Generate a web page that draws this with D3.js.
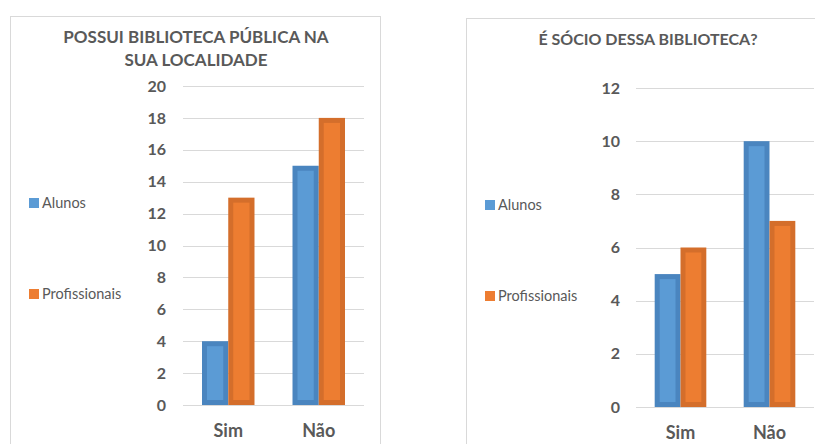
<!DOCTYPE html>
<html>
<head>
<meta charset="utf-8">
<script src="https://cdn.jsdelivr.net/npm/d3@7"></script>
<style>
  body { margin: 0; background: #fff; }
  svg { display: block; font-family: Lato, "Open Sans", sans-serif; }
</style>
</head>
<body>
<svg id="chart" width="815" height="444"></svg>
<script>
var categories = ["Sim", "Não"];
var seriesNames = ["Alunos", "Profissionais"];
var biblioAlunos = [4, 15];
var biblioProfissionais = [13, 18];
var socioAlunos = [5, 10];
var socioProfissionais = [6, 7];
var biblioTicks = [0, 2, 4, 6, 8, 10, 12, 14, 16, 18, 20];
var socioTicks = [0, 2, 4, 6, 8, 10, 12];

var fills = ["#5b9bd5", "#ed7d31"];
var edges = ["#4a85bf", "#d46e2b"];
var textColor = "#595959";

var svg = d3.select("#chart");

function drawPanel(opt) {
  var g = svg.append("g");

  // chart frame
  g.append("rect")
      .attr("x", opt.frame[0] + 0.5)
      .attr("y", opt.frame[1] + 0.5)
      .attr("width", opt.frame[2])
      .attr("height", opt.frame[3])
      .attr("fill", "none")
      .attr("stroke", "#d9d9d9");

  // title
  g.append("text")
      .attr("x", opt.titleX)
      .attr("y", opt.titleY)
      .attr("fill", textColor)
      .attr("font-size", opt.titleSize)
      .attr("font-weight", "bold")
      .style("text-anchor", "middle")
    .selectAll("tspan")
    .data(opt.title)
    .enter().append("tspan")
      .attr("x", opt.titleX)
      .attr("dy", (d, i) => i ? 23 : 0)
      .text(d => d);

  var y = d3.scaleLinear()
            .domain([0, d3.max(opt.ticks)])
            .range([opt.y0, opt.y1]);

  var x = d3.scaleBand()
            .domain(categories)
            .range([opt.x0, opt.x1])
            .paddingInner(0.42)
            .paddingOuter(0.21);

  var xs = d3.scaleBand()
             .domain(seriesNames)
             .range([0, x.bandwidth()]);

  // gridlines
  g.selectAll(".grid")
    .data(opt.ticks)
    .enter().append("line")
      .attr("x1", opt.x0)
      .attr("x2", opt.x1)
      .attr("y1", d => Math.round(y(d)) + 0.5)
      .attr("y2", d => Math.round(y(d)) + 0.5)
      .attr("stroke", "#d9d9d9")
      .attr("stroke-width", 1.2);

  // y axis labels
  var yAxis = d3.axisLeft(y).tickValues(opt.ticks).tickSize(0).tickPadding(0);
  var ya = g.append("g")
      .attr("transform", "translate(" + opt.labelX + ",0)")
      .call(yAxis);
  ya.select(".domain").remove();
  ya.selectAll("text")
      .attr("fill", textColor)
      .attr("font-size", 16)
      .attr("font-weight", "bold")
      .attr("font-family", "Lato, sans-serif");

  // x axis labels
  var xAxis = d3.axisBottom(x).tickSize(0).tickPadding(0);
  var xa = g.append("g")
      .attr("transform", "translate(0," + opt.catY + ")")
      .call(xAxis);
  xa.select(".domain").remove();
  xa.selectAll("text")
      .attr("fill", textColor)
      .attr("font-size", 18)
      .attr("font-weight", "bold")
      .attr("font-family", "Lato, sans-serif");

  // bars
  var rows = [];
  categories.forEach((c, i) => {
    opt.series.forEach((s, j) => rows.push({ cat: c, name: seriesNames[j], value: s[i], k: j }));
  });

  var bars = g.selectAll(".bar")
    .data(rows)
    .enter().append("g");

  bars.append("rect")
      .attr("x", d => x(d.cat) + xs(d.name))
      .attr("y", d => y(d.value))
      .attr("width", xs.bandwidth())
      .attr("height", d => y(0) - y(d.value))
      .attr("fill", d => edges[d.k]);

  bars.append("rect")
      .attr("x", d => x(d.cat) + xs(d.name) + 5)
      .attr("y", d => y(d.value) + 5)
      .attr("width", xs.bandwidth() - 10)
      .attr("height", d => Math.max(0, y(0) - y(d.value) - 10))
      .attr("fill", d => fills[d.k]);

  // legend
  var leg = g.selectAll(".legend")
    .data(seriesNames)
    .enter().append("g")
      .attr("transform", (d, i) => "translate(" + opt.legX + "," + opt.legY[i] + ")");

  leg.append("rect")
      .attr("x", 0)
      .attr("y", -5)
      .attr("width", 10)
      .attr("height", 10)
      .attr("fill", (d, i) => fills[i]);

  leg.append("text")
      .attr("x", 13)
      .attr("y", 5)
      .attr("fill", textColor)
      .attr("font-size", 14.5)
      .text(d => d);
}

drawPanel({
  frame: [10, 16, 370, 440],
  title: ["POSSUI BIBLIOTECA PÚBLICA NA", "SUA LOCALIDADE"],
  titleSize: 17,
  titleX: 196, titleY: 43,
  ticks: biblioTicks,
  y0: 405, y1: 86,
  x0: 183, x1: 364,
  labelX: 166,
  catY: 424,
  series: [biblioAlunos, biblioProfissionais],
  legX: 29, legY: [203, 294]
});

drawPanel({
  frame: [466, 18, 360, 440],
  title: ["É SÓCIO DESSA BIBLIOTECA?"],
  titleSize: 16,
  titleX: 648, titleY: 45,
  ticks: socioTicks,
  y0: 407, y1: 88,
  x0: 636, x1: 814,
  labelX: 620,
  catY: 426,
  series: [socioAlunos, socioProfissionais],
  legX: 485, legY: [205, 296]
});
</script>
</body>
</html>
